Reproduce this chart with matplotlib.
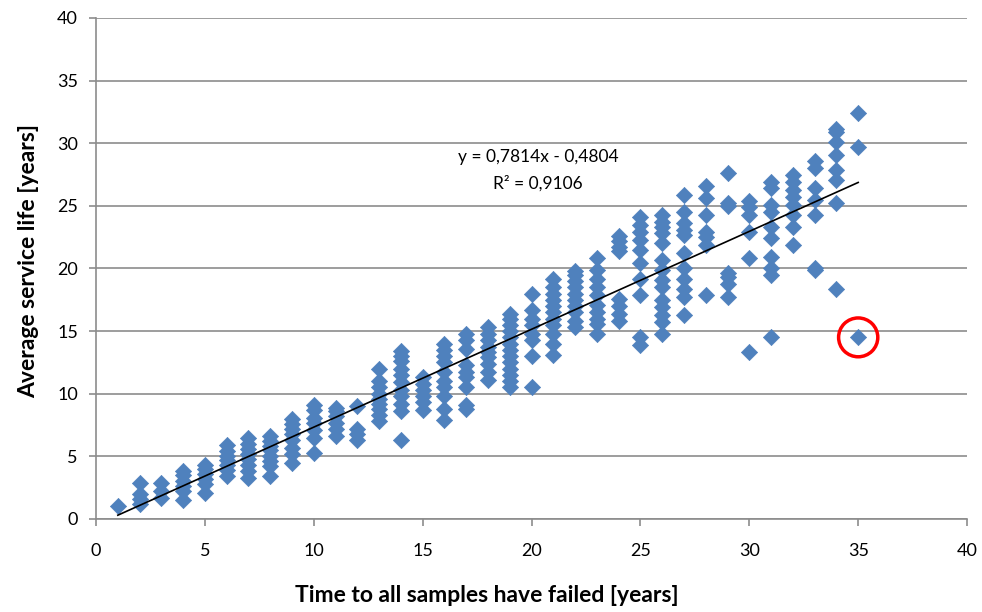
import matplotlib
matplotlib.use("Agg")
import matplotlib.pyplot as plt
from matplotlib.patches import Ellipse
import numpy as np

# values, grouped by x (years)
x_years = list(range(1, 36))
service_life = [
    [1.0],
    [1.2, 1.6, 2.0, 2.9],
    [1.7, 2.2, 2.9],
    [1.5, 2.2, 2.6, 3.0, 3.5, 3.8],
    [2.1, 2.8, 3.2, 3.6, 4.0, 4.3],
    [3.4, 3.9, 4.3, 4.7, 5.0, 5.4, 5.9],
    [3.3, 3.8, 4.3, 4.8, 5.2, 5.6, 6.0, 6.5],
    [3.4, 4.2, 4.6, 5.0, 5.5, 5.8, 6.2, 6.6],
    [4.5, 5.2, 5.7, 6.3, 6.8, 7.2, 7.6, 8.0],
    [5.3, 6.5, 7.1, 7.7, 8.1, 8.7, 9.1],
    [6.6, 7.2, 7.7, 8.2, 8.6, 8.9],
    [6.3, 6.8, 7.2, 9.0],
    [7.8, 8.3, 8.8, 9.2, 9.6, 10.0, 10.5, 11.0, 12.0],
    [6.3, 8.6, 9.2, 9.8, 10.3, 10.9, 11.5, 12.0, 12.6, 13.0, 13.4],
    [8.7, 9.3, 9.8, 10.3, 10.8, 11.3],
    [7.9, 8.8, 9.8, 10.5, 11.0, 11.7, 12.5, 13.0, 13.5, 14.0],
    [8.8, 9.1, 10.5, 11.3, 11.7, 12.3, 13.6, 14.3, 14.8],
    [11.1, 11.7, 12.4, 12.9, 13.3, 13.7, 14.3, 14.8, 15.3],
    [10.5, 11.0, 11.5, 12.0, 12.5, 13.0, 13.5, 14.0, 14.5, 15.0, 15.5, 16.0, 16.4],
    [10.5, 13.0, 14.3, 14.8, 15.5, 16.0, 16.7, 18.0],
    [13.1, 14.0, 14.8, 15.5, 16.0, 16.5, 17.0, 17.5, 18.0, 18.5, 19.2],
    [15.3, 15.8, 16.5, 17.0, 17.5, 18.0, 18.5, 19.0, 19.5, 19.8],
    [14.8, 15.6, 16.0, 16.5, 17.1, 17.9, 18.5, 19.2, 19.9, 20.8],
    [15.8, 16.4, 17.0, 17.6, 21.4, 21.7, 22.2, 22.6],
    [13.9, 14.5, 17.9, 19.2, 20.4, 21.5, 22.3, 22.9, 23.5, 24.1],
    [14.8, 15.7, 16.3, 16.9, 17.5, 18.5, 19.1, 19.9, 20.7, 22.0, 22.8, 23.3, 23.7, 24.3],
    [16.3, 17.7, 18.4, 19.2, 20.0, 21.2, 22.7, 23.1, 23.6, 24.5, 25.9],
    [17.9, 21.9, 22.5, 22.9, 24.3, 25.6, 26.6],
    [17.7, 18.8, 19.3, 19.6, 25.0, 25.2, 27.6],
    [13.3, 20.8, 22.9, 24.3, 24.9, 25.4],
    [14.5, 19.5, 20.0, 20.9, 22.4, 23.3, 24.5, 25.1, 26.4, 26.9],
    [21.9, 23.3, 24.3, 25.1, 25.7, 26.3, 26.9, 27.5],
    [19.9, 20.0, 24.3, 25.5, 26.4, 28.0, 28.6],
    [18.4, 25.2, 27.1, 27.9, 29.1, 30.1, 30.9, 31.1],
    [14.5, 29.7, 32.4],
]
slope = 0.7814
intercept = -0.4804
eq_label = "y = 0,7814x - 0,4804"
r2_label = "R² = 0,9106"
outlier = (35, 14.5)

xs = np.concatenate([[x] * len(v) for x, v in zip(x_years, service_life)])
ys = np.concatenate(service_life)

plt.rcParams['font.family'] = ['Lato', 'DejaVu Sans']

fig = plt.figure(figsize=(9.82, 6.12), dpi=100)
ax = fig.add_axes([0.0978, 0.152, 0.887, 0.8186])

ax.grid(axis='y', color='#8c8c8c', linewidth=1.2, zorder=0)
ax.scatter(xs, ys, marker='D', s=68, color='#4F81BD', edgecolors='#4F81BD',
           linewidths=0.5, zorder=3)

# linear trendline
tx = np.array([min(x_years), max(x_years)])
ax.plot(tx, slope * tx + intercept, color='black', linewidth=1.2, zorder=4)

ax.text(20.3, 28.9, eq_label, ha='center', va='center', fontsize=12.5)
ax.text(20.3, 26.8, r2_label, ha='center', va='center', fontsize=12.5)

ax.add_patch(Ellipse(outlier, width=1.8, height=3.1, fill=False,
                     edgecolor='#FF0000', linewidth=2.5, zorder=5))

ax.set_xlim(0, 40)
ax.set_ylim(0, 40)
ax.set_xticks(range(0, 41, 5))
ax.set_yticks(range(0, 41, 5))
ax.tick_params(axis='both', direction='out', length=5, color='#8c8c8c',
               labelsize=13, width=1.2)
ax.tick_params(axis='x', pad=12)
ax.tick_params(axis='y', pad=8)
for side in ['top', 'right']:
    ax.spines[side].set_visible(False)
for side in ['left', 'bottom']:
    ax.spines[side].set_color('#8c8c8c')
    ax.spines[side].set_linewidth(1.2)

ax.set_xlabel("Time to all samples have failed [years]", fontsize=16.5,
              fontweight='bold')
ax.xaxis.set_label_coords(0.449, -0.132)
ax.set_ylabel("Average service life [years]", fontsize=16.5,
              fontweight='bold')
ax.yaxis.set_label_coords(-0.065, 0.515)

fig.savefig("out.png", dpi=100)
